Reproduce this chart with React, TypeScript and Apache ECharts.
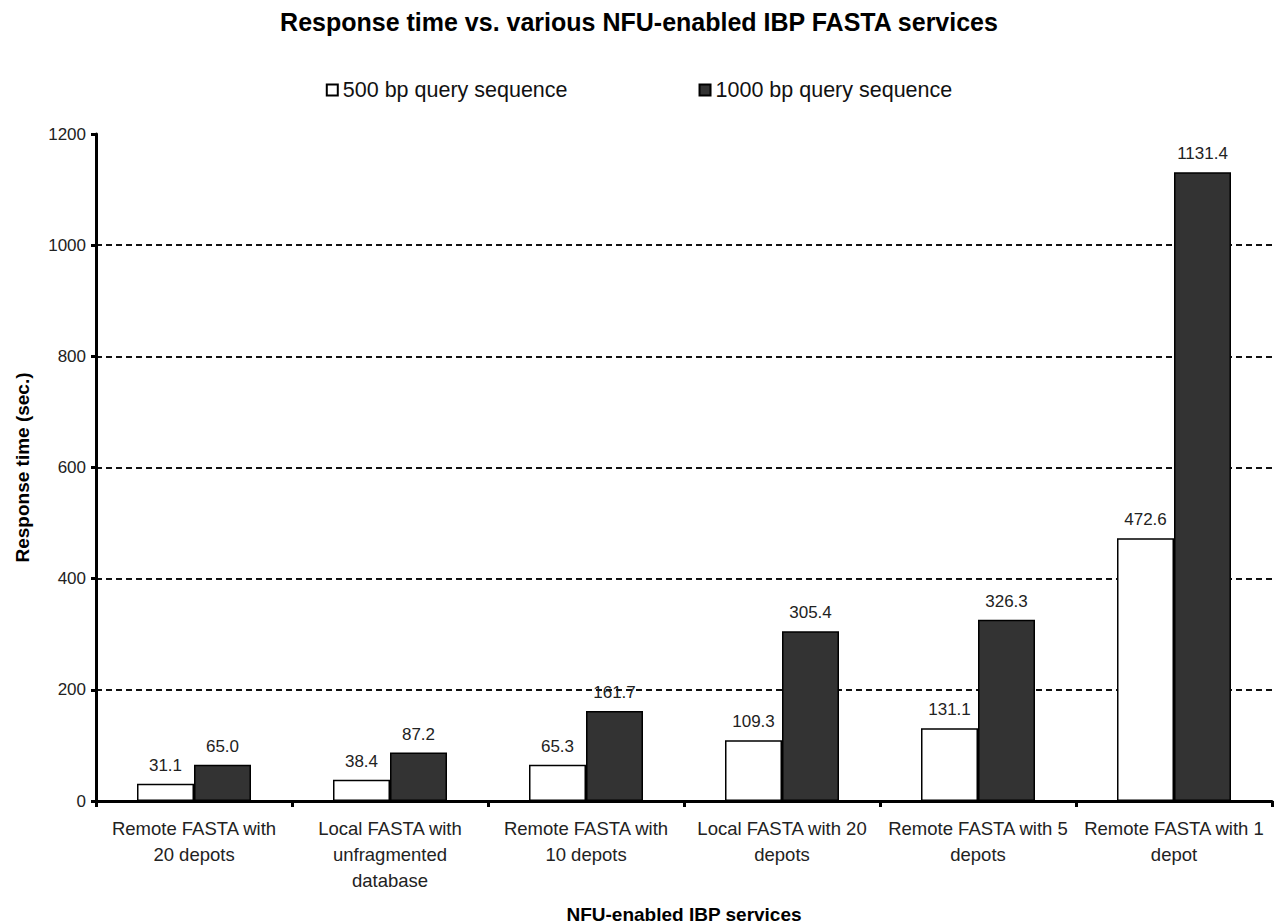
import React, { useEffect, useRef } from "react";
import * as echarts from "echarts";

const categories = [
  "Remote FASTA with\n20 depots",
  "Local FASTA with\nunfragmented\ndatabase",
  "Remote FASTA with\n10 depots",
  "Local FASTA with 20\ndepots",
  "Remote FASTA with 5\ndepots",
  "Remote FASTA with 1\ndepot",
];
const series500 = [31.1, 38.4, 65.3, 109.3, 131.1, 472.6];
const series1000 = [65.0, 87.2, 161.7, 305.4, 326.3, 1131.4];
const seriesNames = ["500 bp query sequence", "1000 bp query sequence"];

const FONT = '"Liberation Sans", Arial, sans-serif';

export default function App() {
  const ref = useRef<HTMLDivElement>(null);
  useEffect(() => {
    document.body.style.margin = "0";
    const chart = echarts.init(ref.current!, null, { renderer: "svg" });
    const label = {
      show: true,
      position: "top",
      distance: 10,
      color: "#222",
      fontSize: 17,
      fontFamily: FONT,
      formatter: (p: any) => Number(p.value).toFixed(1),
    };
    chart.setOption({
      animation: false,
      backgroundColor: "#fff",
      textStyle: { fontFamily: FONT },
      title: {
        text: "Response time vs. various NFU-enabled IBP FASTA services",
        left: "center",
        top: 4,
        textStyle: { fontSize: 25, fontWeight: "bold", color: "#000", fontFamily: FONT },
      },
      legend: {
        top: 74,
        left: "center",
        itemGap: 131,
        itemWidth: 11,
        itemHeight: 11,
        icon: "rect",
        textStyle: { fontSize: 21.5, color: "#111", fontFamily: FONT },
        data: seriesNames,
      },
      grid: { left: 96, right: 6, top: 134, bottom: 123, outerBoundsMode: "none", containLabel: false },
      xAxis: {
        type: "category",
        data: categories,
        name: "NFU-enabled IBP services",
        nameLocation: "middle",
        nameGap: 104,
        nameTextStyle: { fontSize: 19, fontWeight: "bold", color: "#000", fontFamily: FONT },
        axisLine: { lineStyle: { color: "#000", width: 3 } },
        axisTick: { show: true, length: 6, lineStyle: { color: "#000", width: 3 } },
        axisLabel: { fontSize: 18.5, color: "#222", lineHeight: 26, margin: 14, interval: 0, fontFamily: FONT },
      },
      yAxis: {
        type: "value",
        min: 0,
        max: 1200,
        interval: 200,
        name: "Response time (sec.)",
        nameLocation: "middle",
        nameGap: 64,
        nameTextStyle: { fontSize: 19, fontWeight: "bold", color: "#000", fontFamily: FONT },
        axisLine: { show: true, lineStyle: { color: "#000", width: 3 } },
        axisTick: { show: true, length: 5, lineStyle: { color: "#000", width: 3 } },
        axisLabel: {
          fontSize: 17,
          color: "#222",
          margin: 10,
          fontFamily: FONT,
          formatter: (v: number) => String(v),
        },
        splitLine: {
          show: true,
          showMinLine: false,
          showMaxLine: false,
          lineStyle: { color: "#111", type: [6, 4], width: 2 },
        },
      },
      series: [
        {
          name: seriesNames[0],
          type: "bar",
          data: series500,
          barWidth: 57,
          barGap: "0%",
          itemStyle: { color: "#fff", borderColor: "#000", borderWidth: 1.5 },
          label,
        },
        {
          name: seriesNames[1],
          type: "bar",
          data: series1000,
          barWidth: 57,
          barGap: "0%",
          itemStyle: { color: "#333", borderColor: "#000", borderWidth: 1.5 },
          label,
        },
      ],
    });
    return () => chart.dispose();
  }, []);
  return <div ref={ref} style={{ width: 1278, height: 924 }} />;
}
